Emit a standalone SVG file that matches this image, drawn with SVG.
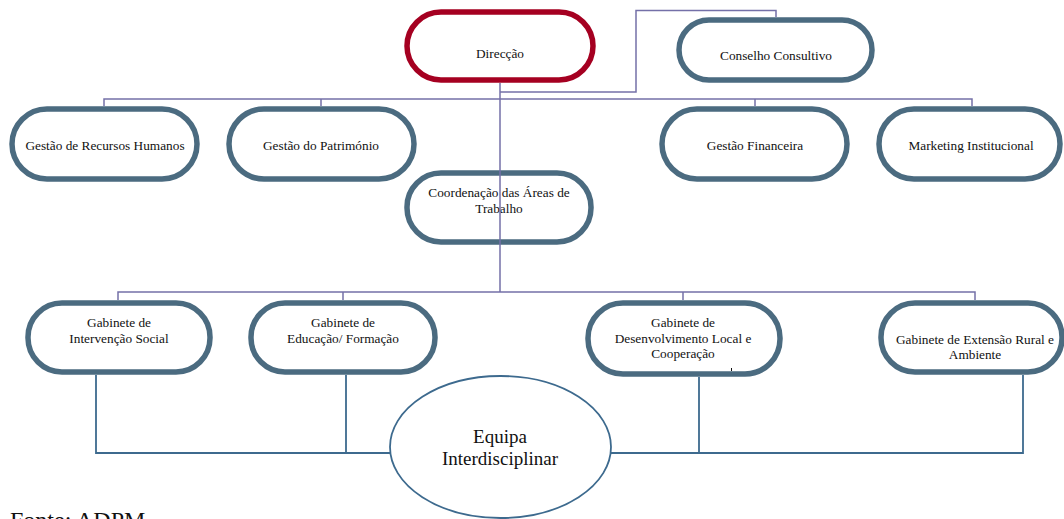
<svg xmlns="http://www.w3.org/2000/svg" width="1064" height="519" viewBox="0 0 1064 519">
<style>
.pill{fill:#fff;stroke:#4B6B80;stroke-width:5.5}
.red{fill:#fff;stroke:#A50021;stroke-width:5.5}
.t{font-family:"Liberation Serif","Times New Roman",serif;font-size:13.3px;fill:#111;text-anchor:middle}
.top{fill:none;stroke:#7470A8;stroke-width:1.5}
.bot{fill:none;stroke:#3D6A8E;stroke-width:1.8}
.ell{fill:#fff;stroke:#3D6A8E;stroke-width:1.8}
</style>
<rect width="1064" height="519" fill="#fff"/>
<g id="direccao"><rect class="red" x="407" y="12" width="186" height="68" rx="34"/><text class="t" x="500" y="58">Direcção</text></g>
<g id="conselho"><rect class="pill" x="679" y="20" width="193" height="60" rx="30"/><text class="t" x="776" y="60">Conselho Consultivo</text></g>
<g id="grh"><rect class="pill" x="12" y="109" width="185" height="70" rx="35"/><text class="t" x="105" y="150">Gestão de Recursos Humanos</text></g>
<g id="patrimonio"><rect class="pill" x="229" y="109" width="185" height="70" rx="35"/><text class="t" x="321" y="150">Gestão do Património</text></g>
<g id="financeira"><rect class="pill" x="662" y="109" width="185" height="70" rx="35"/><text class="t" x="755" y="150">Gestão Financeira</text></g>
<g id="marketing"><rect class="pill" x="879" y="109" width="181" height="70" rx="35"/><text class="t" x="971" y="150">Marketing Institucional</text></g>
<g id="coordenacao"><rect class="pill" x="407" y="173" width="184" height="69" rx="34"/><text class="t" x="499" y="197">Coordenação das Áreas de</text><text class="t" x="499" y="213">Trabalho</text></g>
<g id="intervencao"><rect class="pill" x="28" y="303" width="182" height="69" rx="34"/><text class="t" x="119" y="327">Gabinete de</text><text class="t" x="119" y="343">Intervenção Social</text></g>
<g id="educacao"><rect class="pill" x="251" y="303" width="184" height="69" rx="34"/><text class="t" x="343" y="327">Gabinete de</text><text class="t" x="343" y="343">Educação/ Formação</text></g>
<g id="desenvolvimento"><rect class="pill" x="588" y="303" width="192" height="71" rx="35"/><text class="t" x="683" y="327">Gabinete de</text><text class="t" x="683" y="343">Desenvolvimento Local e</text><text class="t" x="683" y="358">Cooperação</text><line x1="731.5" y1="368" x2="731.5" y2="371" stroke="#111" stroke-width="1"/></g>
<g id="extensao"><rect class="pill" x="881" y="303" width="181" height="69" rx="34"/><text class="t" x="975" y="344">Gabinete de Extensão Rural e</text><text class="t" x="975" y="359">Ambiente</text></g>
<g id="equipa"><ellipse class="ell" cx="500.5" cy="447" rx="110.5" ry="71"/><text class="t" x="500" y="443" style="font-size:19px">Equipa</text><text class="t" x="500" y="465" style="font-size:19px">Interdisciplinar</text></g>
<g id="connectors">
<path class="top" d="M500 83V292M500 92H636V10.5H776V17M104 106V99H972V106M321 99V106M755 99V106M118 300V292H975V300M343 292V300M683 292V300"/>
<path class="bot" d="M96 375V453H390M346 375V453M611 453H1023V375M699 377V453"/>
</g>
<text x="10" y="528" style="font-family:'Liberation Serif','Times New Roman',serif;font-size:24px;fill:#111">Fonte: ADPM</text>
</svg>
